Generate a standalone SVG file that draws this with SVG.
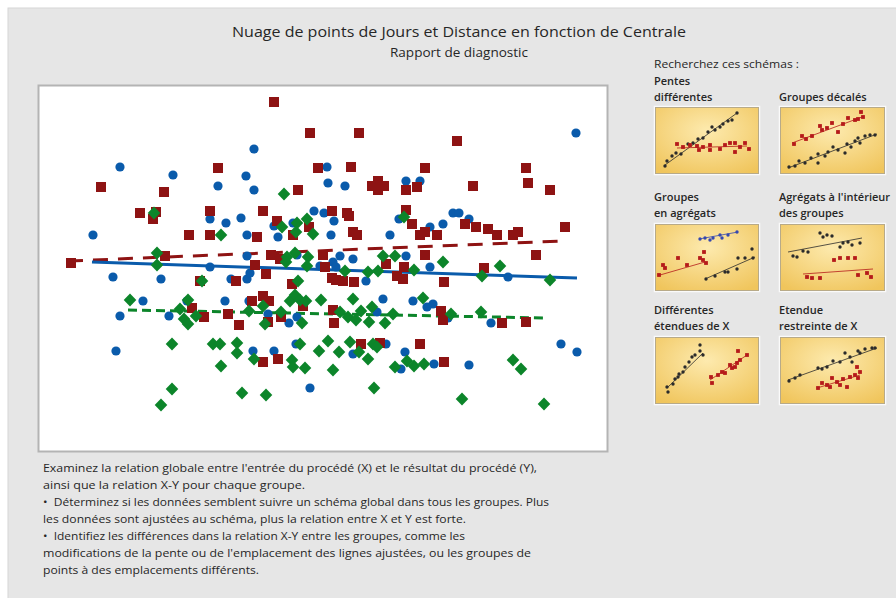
<svg xmlns="http://www.w3.org/2000/svg" xmlns:xlink="http://www.w3.org/1999/xlink" width="896" height="598" viewBox="0 0 896 598">
<defs>
<style>
text{font-family:"Open Sans","Liberation Sans",sans-serif;fill:#262626}
.t1{font-size:14px}
.t2{font-size:12px}
.lab{font-size:11px}
.lb{font-size:11px;font-weight:600}
.note{font-size:10.5px}
.b{fill:#0a5bab}
.r{fill:#8e1313}
.g{fill:#0c852a}
.tb{fill:#2b2b2b}
.tr{fill:#b51a1a}
.tu{fill:#3548b0}
.thumb{fill:url(#gold);stroke:#b8aa88;stroke-width:1}
.thumbo{fill:none;stroke:#fafafa;stroke-width:1.5}
</style>
<radialGradient id="gold" cx="0.5" cy="0.35" r="0.75">
<stop offset="0" stop-color="#fdeaae"/>
<stop offset="1" stop-color="#f0c55c"/>
</radialGradient>
<circle id="mb" r="4.6"/>
<rect id="mr" x="-5" y="-5" width="10" height="10"/>
<path id="mg" d="M0,-6.5L6.3,0L0,6.5L-6.3,0Z"/>
<circle id="sb" r="1.7"/>
<rect id="sr" x="-1.9" y="-1.9" width="3.8" height="3.8"/>
</defs>

<rect x="0" y="0" width="896" height="598" fill="#ffffff"/>
<rect x="8" y="8" width="890" height="592" fill="#e6e6e6" stroke="#d6d6d6" stroke-width="1"/>

<g id="title">
<text class="t1" x="459" y="37" text-anchor="middle" textLength="454" lengthAdjust="spacingAndGlyphs">Nuage de points de Jours et Distance en fonction de Centrale</text>
<text class="t2" x="459" y="57" text-anchor="middle" textLength="138" lengthAdjust="spacingAndGlyphs">Rapport de diagnostic</text>
</g>

<g id="plot">
<rect x="38.5" y="85.5" width="569" height="366" fill="#ffffff" stroke="#b4b4b4" stroke-width="2"/>
<g id="fitlines" fill="none" stroke-width="3">
<line x1="68" y1="261" x2="562" y2="241" stroke="#8e1313" stroke-dasharray="15 10"/>
<line x1="92" y1="262" x2="577" y2="278" stroke="#0a5bab"/>
<line x1="128" y1="310" x2="547" y2="318" stroke="#0c852a" stroke-dasharray="9 5"/>
</g>
<g id="blue-points" class="b">
<use href="#mb" x="120" y="167"/><use href="#mb" x="173" y="175"/><use href="#mb" x="246" y="176"/><use href="#mb" x="218" y="186"/><use href="#mb" x="254" y="149"/><use href="#mb" x="254" y="190"/><use href="#mb" x="327" y="167"/><use href="#mb" x="328" y="183"/><use href="#mb" x="314" y="211"/><use href="#mb" x="324" y="213"/><use href="#mb" x="210" y="219"/><use href="#mb" x="226" y="223"/><use href="#mb" x="241" y="218"/><use href="#mb" x="274" y="226"/><use href="#mb" x="293" y="223"/><use href="#mb" x="93" y="235"/><use href="#mb" x="247" y="235"/><use href="#mb" x="278" y="237"/><use href="#mb" x="247" y="256"/><use href="#mb" x="210" y="267"/><use href="#mb" x="297" y="255"/><use href="#mb" x="320" y="266"/><use href="#mb" x="576" y="133"/><use href="#mb" x="345" y="186"/><use href="#mb" x="406" y="181"/><use href="#mb" x="420" y="181"/><use href="#mb" x="334" y="221"/><use href="#mb" x="331" y="235"/><use href="#mb" x="390" y="235"/><use href="#mb" x="399" y="219"/><use href="#mb" x="430" y="227"/><use href="#mb" x="443" y="224"/><use href="#mb" x="453" y="213"/><use href="#mb" x="459" y="213"/><use href="#mb" x="469" y="219"/><use href="#mb" x="406" y="256"/><use href="#mb" x="353" y="259"/><use href="#mb" x="340" y="256"/><use href="#mb" x="333" y="262"/><use href="#mb" x="336" y="267"/><use href="#mb" x="430" y="267"/><use href="#mb" x="113" y="277"/><use href="#mb" x="161" y="279"/><use href="#mb" x="231" y="279"/><use href="#mb" x="247" y="279"/><use href="#mb" x="250" y="273"/><use href="#mb" x="143" y="301"/><use href="#mb" x="120" y="316"/><use href="#mb" x="169" y="316"/><use href="#mb" x="225" y="301"/><use href="#mb" x="249" y="301"/><use href="#mb" x="268" y="314"/><use href="#mb" x="289" y="323"/><use href="#mb" x="297" y="317"/><use href="#mb" x="116" y="351"/><use href="#mb" x="253" y="351"/><use href="#mb" x="274" y="351"/><use href="#mb" x="296" y="344"/><use href="#mb" x="310" y="388"/><use href="#mb" x="187" y="301"/><use href="#mb" x="366" y="281"/><use href="#mb" x="508" y="277"/><use href="#mb" x="383" y="299"/><use href="#mb" x="413" y="301"/><use href="#mb" x="433" y="304"/><use href="#mb" x="427" y="307"/><use href="#mb" x="377" y="312"/><use href="#mb" x="448" y="318"/><use href="#mb" x="491" y="323"/><use href="#mb" x="561" y="344"/><use href="#mb" x="577" y="352"/><use href="#mb" x="353" y="354"/><use href="#mb" x="386" y="344"/><use href="#mb" x="405" y="352"/><use href="#mb" x="434" y="364"/><use href="#mb" x="401" y="369"/><use href="#mb" x="469" y="365"/>
</g>
<g id="red-points" class="r">
<use href="#mr" x="274" y="102"/><use href="#mr" x="310" y="133"/><use href="#mr" x="101" y="187"/><use href="#mr" x="218" y="168"/><use href="#mr" x="318" y="168"/><use href="#mr" x="164" y="192"/><use href="#mr" x="298" y="190"/><use href="#mr" x="140" y="213"/><use href="#mr" x="156" y="212"/><use href="#mr" x="153" y="219"/><use href="#mr" x="210" y="211"/><use href="#mr" x="263" y="211"/><use href="#mr" x="277" y="221"/><use href="#mr" x="189" y="235"/><use href="#mr" x="210" y="235"/><use href="#mr" x="257" y="237"/><use href="#mr" x="293" y="235"/><use href="#mr" x="309" y="227"/><use href="#mr" x="71" y="263"/><use href="#mr" x="165" y="256"/><use href="#mr" x="271" y="255"/><use href="#mr" x="280" y="259"/><use href="#mr" x="255" y="265"/><use href="#mr" x="323" y="255"/><use href="#mr" x="325" y="267"/><use href="#mr" x="359" y="133"/><use href="#mr" x="457" y="141"/><use href="#mr" x="351" y="167"/><use href="#mr" x="425" y="168"/><use href="#mr" x="526" y="168"/><use href="#mr" x="528" y="183"/><use href="#mr" x="473" y="186"/><use href="#mr" x="550" y="190"/><use href="#mr" x="372" y="186"/><use href="#mr" x="378" y="181"/><use href="#mr" x="384" y="186"/><use href="#mr" x="378" y="190"/><use href="#mr" x="406" y="190"/><use href="#mr" x="417" y="187"/><use href="#mr" x="332" y="211"/><use href="#mr" x="347" y="213"/><use href="#mr" x="349" y="216"/><use href="#mr" x="406" y="210"/><use href="#mr" x="412" y="224"/><use href="#mr" x="465" y="224"/><use href="#mr" x="476" y="227"/><use href="#mr" x="488" y="229"/><use href="#mr" x="497" y="235"/><use href="#mr" x="513" y="235"/><use href="#mr" x="518" y="232"/><use href="#mr" x="565" y="227"/><use href="#mr" x="353" y="232"/><use href="#mr" x="357" y="235"/><use href="#mr" x="420" y="235"/><use href="#mr" x="425" y="232"/><use href="#mr" x="437" y="235"/><use href="#mr" x="425" y="255"/><use href="#mr" x="536" y="255"/><use href="#mr" x="386" y="264"/><use href="#mr" x="404" y="267"/><use href="#mr" x="484" y="268"/><use href="#mr" x="236" y="281"/><use href="#mr" x="266" y="274"/><use href="#mr" x="292" y="284"/><use href="#mr" x="252" y="301"/><use href="#mr" x="263" y="296"/><use href="#mr" x="269" y="301"/><use href="#mr" x="192" y="308"/><use href="#mr" x="204" y="317"/><use href="#mr" x="228" y="314"/><use href="#mr" x="239" y="325"/><use href="#mr" x="268" y="322"/><use href="#mr" x="281" y="317"/><use href="#mr" x="263" y="362"/><use href="#mr" x="278" y="359"/><use href="#mr" x="303" y="306"/><use href="#mr" x="200" y="281"/><use href="#mr" x="332" y="278"/><use href="#mr" x="444" y="282"/><use href="#mr" x="354" y="282"/><use href="#mr" x="336" y="280"/><use href="#mr" x="343" y="281"/><use href="#mr" x="333" y="310"/><use href="#mr" x="441" y="311"/><use href="#mr" x="443" y="320"/><use href="#mr" x="334" y="323"/><use href="#mr" x="502" y="323"/><use href="#mr" x="526" y="322"/><use href="#mr" x="361" y="344"/><use href="#mr" x="380" y="343"/><use href="#mr" x="420" y="344"/><use href="#mr" x="444" y="362"/><use href="#mr" x="397" y="276"/><use href="#mr" x="403" y="279"/>
</g>
<g id="green-points" class="g">
<use href="#mg" x="284" y="194"/><use href="#mg" x="154" y="213"/><use href="#mg" x="282" y="227"/><use href="#mg" x="297" y="223"/><use href="#mg" x="307" y="219"/><use href="#mg" x="296" y="232"/><use href="#mg" x="313" y="234"/><use href="#mg" x="221" y="235"/><use href="#mg" x="157" y="253"/><use href="#mg" x="157" y="265"/><use href="#mg" x="287" y="257"/><use href="#mg" x="295" y="253"/><use href="#mg" x="308" y="257"/><use href="#mg" x="286" y="262"/><use href="#mg" x="307" y="266"/><use href="#mg" x="404" y="217"/><use href="#mg" x="383" y="256"/><use href="#mg" x="395" y="256"/><use href="#mg" x="443" y="262"/><use href="#mg" x="500" y="266"/><use href="#mg" x="414" y="270"/><use href="#mg" x="130" y="300"/><use href="#mg" x="188" y="300"/><use href="#mg" x="202" y="281"/><use href="#mg" x="180" y="309"/><use href="#mg" x="184" y="319"/><use href="#mg" x="188" y="324"/><use href="#mg" x="196" y="316"/><use href="#mg" x="249" y="311"/><use href="#mg" x="263" y="306"/><use href="#mg" x="265" y="324"/><use href="#mg" x="281" y="312"/><use href="#mg" x="290" y="301"/><use href="#mg" x="295" y="295"/><use href="#mg" x="300" y="300"/><use href="#mg" x="306" y="301"/><use href="#mg" x="321" y="300"/><use href="#mg" x="302" y="323"/><use href="#mg" x="298" y="281"/><use href="#mg" x="172" y="344"/><use href="#mg" x="213" y="344"/><use href="#mg" x="220" y="344"/><use href="#mg" x="237" y="343"/><use href="#mg" x="237" y="353"/><use href="#mg" x="254" y="359"/><use href="#mg" x="221" y="366"/><use href="#mg" x="292" y="360"/><use href="#mg" x="293" y="367"/><use href="#mg" x="305" y="368"/><use href="#mg" x="300" y="344"/><use href="#mg" x="319" y="351"/><use href="#mg" x="328" y="341"/><use href="#mg" x="172" y="389"/><use href="#mg" x="161" y="405"/><use href="#mg" x="242" y="393"/><use href="#mg" x="266" y="395"/><use href="#mg" x="482" y="276"/><use href="#mg" x="550" y="280"/><use href="#mg" x="368" y="272"/><use href="#mg" x="378" y="271"/><use href="#mg" x="345" y="271"/><use href="#mg" x="353" y="299"/><use href="#mg" x="372" y="307"/><use href="#mg" x="361" y="311"/><use href="#mg" x="340" y="312"/><use href="#mg" x="348" y="317"/><use href="#mg" x="356" y="320"/><use href="#mg" x="369" y="322"/><use href="#mg" x="385" y="323"/><use href="#mg" x="393" y="314"/><use href="#mg" x="423" y="298"/><use href="#mg" x="451" y="314"/><use href="#mg" x="481" y="312"/><use href="#mg" x="339" y="352"/><use href="#mg" x="350" y="342"/><use href="#mg" x="359" y="352"/><use href="#mg" x="368" y="359"/><use href="#mg" x="373" y="344"/><use href="#mg" x="377" y="347"/><use href="#mg" x="333" y="370"/><use href="#mg" x="395" y="367"/><use href="#mg" x="407" y="361"/><use href="#mg" x="414" y="366"/><use href="#mg" x="424" y="364"/><use href="#mg" x="513" y="360"/><use href="#mg" x="521" y="369"/><use href="#mg" x="374" y="388"/><use href="#mg" x="462" y="399"/><use href="#mg" x="544" y="404"/>
</g>
</g>

<g id="patterns-heading">
<text class="lab" x="654" y="68" textLength="145" lengthAdjust="spacingAndGlyphs">Recherchez ces schémas :</text>
</g>

<g id="pentes-differentes">
<text class="lb" x="654" y="85">Pentes</text>
<text class="lb" x="654" y="101">différentes</text>
<rect class="thumbo" x="654.5" y="106.5" width="105" height="68"/>
<rect class="thumb" x="655.5" y="107.5" width="103" height="66"/>
<line x1="665" y1="165" x2="737" y2="113" stroke="#2b2b2b" stroke-width="0.8"/>
<line x1="677" y1="148" x2="747" y2="146" stroke="#b51a1a" stroke-width="0.8"/>
<g class="tb"><use href="#sb" x="665" y="166"/><use href="#sb" x="667" y="161"/><use href="#sb" x="672" y="156"/><use href="#sb" x="676" y="153"/><use href="#sb" x="681" y="154"/><use href="#sb" x="688" y="144"/><use href="#sb" x="693" y="143"/><use href="#sb" x="698" y="139"/><use href="#sb" x="703" y="138"/><use href="#sb" x="708" y="132"/><use href="#sb" x="712" y="127"/><use href="#sb" x="715" y="130"/><use href="#sb" x="720" y="127"/><use href="#sb" x="723" y="124"/><use href="#sb" x="728" y="121"/><use href="#sb" x="732" y="120"/><use href="#sb" x="737" y="113"/></g>
<g class="tr"><use href="#sr" x="677" y="144"/><use href="#sr" x="683" y="147"/><use href="#sr" x="690" y="145"/><use href="#sr" x="697" y="146"/><use href="#sr" x="699" y="150"/><use href="#sr" x="703" y="147"/><use href="#sr" x="710" y="145"/><use href="#sr" x="710" y="150"/><use href="#sr" x="720" y="149"/><use href="#sr" x="725" y="145"/><use href="#sr" x="730" y="143"/><use href="#sr" x="735" y="143"/><use href="#sr" x="735" y="152"/><use href="#sr" x="740" y="147"/><use href="#sr" x="745" y="143"/><use href="#sr" x="749" y="149"/></g>
</g>

<g id="groupes-decales">
<text class="lb" x="779" y="101">Groupes décalés</text>
<rect class="thumbo" x="779.5" y="106.5" width="106" height="68"/>
<rect class="thumb" x="780.5" y="107.5" width="104" height="66"/>
<line x1="792" y1="143" x2="862" y2="117" stroke="#b51a1a" stroke-width="0.8"/>
<line x1="788" y1="168" x2="877" y2="134" stroke="#2b2b2b" stroke-width="0.8"/>
<g class="tr"><use href="#sr" x="794" y="144"/><use href="#sr" x="802" y="136"/><use href="#sr" x="806" y="139"/><use href="#sr" x="812" y="136"/><use href="#sr" x="820" y="126"/><use href="#sr" x="822" y="130"/><use href="#sr" x="827" y="128"/><use href="#sr" x="832" y="123"/><use href="#sr" x="838" y="132"/><use href="#sr" x="843" y="124"/><use href="#sr" x="848" y="118"/><use href="#sr" x="855" y="120"/><use href="#sr" x="858" y="119"/><use href="#sr" x="861" y="112"/><use href="#sr" x="863" y="117"/></g>
<g class="tb"><use href="#sb" x="789" y="167"/><use href="#sb" x="795" y="166"/><use href="#sb" x="799" y="161"/><use href="#sb" x="805" y="163"/><use href="#sb" x="811" y="158"/><use href="#sb" x="818" y="154"/><use href="#sb" x="818" y="163"/><use href="#sb" x="825" y="156"/><use href="#sb" x="828" y="152"/><use href="#sb" x="833" y="147"/><use href="#sb" x="838" y="150"/><use href="#sb" x="845" y="153"/><use href="#sb" x="847" y="144"/><use href="#sb" x="851" y="147"/><use href="#sb" x="855" y="141"/><use href="#sb" x="858" y="138"/><use href="#sb" x="860" y="143"/><use href="#sb" x="865" y="136"/><use href="#sb" x="870" y="135"/><use href="#sb" x="875" y="135"/></g>
</g>

<g id="groupes-en-agregats">
<text class="lb" x="654" y="201">Groupes</text>
<text class="lb" x="654" y="217">en agrégats</text>
<rect class="thumbo" x="654.5" y="223.5" width="105" height="68"/>
<rect class="thumb" x="655.5" y="224.5" width="103" height="66"/>
<line x1="699" y1="239" x2="738" y2="232" stroke="#3548b0" stroke-width="0.8"/>
<line x1="660" y1="275" x2="705" y2="262" stroke="#b51a1a" stroke-width="0.8"/>
<line x1="705" y1="279" x2="755" y2="257" stroke="#2b2b2b" stroke-width="0.8"/>
<g class="tu"><use href="#sb" x="700" y="239"/><use href="#sb" x="705" y="238"/><use href="#sb" x="710" y="240"/><use href="#sb" x="713" y="238"/><use href="#sb" x="720" y="235"/><use href="#sb" x="722" y="238"/><use href="#sb" x="728" y="235"/><use href="#sb" x="737" y="232"/></g>
<g class="tr"><use href="#sr" x="659" y="275"/><use href="#sr" x="663" y="265"/><use href="#sr" x="665" y="268"/><use href="#sr" x="678" y="258"/><use href="#sr" x="687" y="265"/><use href="#sr" x="700" y="258"/><use href="#sr" x="704" y="252"/><use href="#sr" x="703" y="260"/><use href="#sr" x="706" y="263"/></g>
<g class="tb"><use href="#sb" x="706" y="279"/><use href="#sb" x="715" y="276"/><use href="#sb" x="725" y="272"/><use href="#sb" x="728" y="272"/><use href="#sb" x="737" y="269"/><use href="#sb" x="738" y="258"/><use href="#sb" x="745" y="258"/><use href="#sb" x="752" y="249"/><use href="#sb" x="753" y="258"/></g>
</g>

<g id="agregats-interieur">
<text class="lb" x="779" y="201">Agrégats à l'intérieur</text>
<text class="lb" x="779" y="217">des groupes</text>
<rect class="thumbo" x="779.5" y="223.5" width="106" height="68"/>
<rect class="thumb" x="780.5" y="224.5" width="104" height="66"/>
<line x1="788" y1="252" x2="862" y2="238" stroke="#2b2b2b" stroke-width="0.8"/>
<line x1="803" y1="274" x2="873" y2="269" stroke="#b51a1a" stroke-width="0.8"/>
<g class="tb"><use href="#sb" x="793" y="256"/><use href="#sb" x="797" y="257"/><use href="#sb" x="803" y="251"/><use href="#sb" x="808" y="252"/><use href="#sb" x="820" y="233"/><use href="#sb" x="823" y="237"/><use href="#sb" x="827" y="235"/><use href="#sb" x="832" y="236"/><use href="#sb" x="840" y="247"/><use href="#sb" x="843" y="243"/><use href="#sb" x="848" y="242"/><use href="#sb" x="852" y="245"/><use href="#sb" x="860" y="243"/></g>
<g class="tr"><use href="#sr" x="807" y="277"/><use href="#sr" x="812" y="278"/><use href="#sr" x="820" y="278"/><use href="#sr" x="834" y="260"/><use href="#sr" x="840" y="258"/><use href="#sr" x="848" y="258"/><use href="#sr" x="855" y="258"/><use href="#sr" x="858" y="275"/><use href="#sr" x="867" y="273"/><use href="#sr" x="871" y="277"/></g>
</g>

<g id="differentes-etendues">
<text class="lb" x="654" y="314">Différentes</text>
<text class="lb" x="654" y="330">étendues de X</text>
<rect class="thumbo" x="654.5" y="336.5" width="105" height="68"/>
<rect class="thumb" x="655.5" y="337.5" width="103" height="66"/>
<line x1="667" y1="388" x2="703" y2="353" stroke="#2b2b2b" stroke-width="0.8"/>
<line x1="710" y1="380" x2="747" y2="355" stroke="#b51a1a" stroke-width="0.8"/>
<g class="tb"><use href="#sb" x="667" y="387"/><use href="#sb" x="668" y="392"/><use href="#sb" x="673" y="384"/><use href="#sb" x="675" y="379"/><use href="#sb" x="678" y="377"/><use href="#sb" x="679" y="374"/><use href="#sb" x="683" y="372"/><use href="#sb" x="685" y="367"/><use href="#sb" x="689" y="362"/><use href="#sb" x="692" y="357"/><use href="#sb" x="695" y="355"/><use href="#sb" x="700" y="345"/><use href="#sb" x="700" y="351"/><use href="#sb" x="703" y="355"/></g>
<g class="tr"><use href="#sr" x="711" y="377"/><use href="#sr" x="712" y="383"/><use href="#sr" x="718" y="375"/><use href="#sr" x="722" y="372"/><use href="#sr" x="725" y="373"/><use href="#sr" x="730" y="365"/><use href="#sr" x="732" y="368"/><use href="#sr" x="735" y="367"/><use href="#sr" x="737" y="363"/><use href="#sr" x="740" y="360"/><use href="#sr" x="738" y="351"/><use href="#sr" x="747" y="355"/></g>
</g>

<g id="etendue-restreinte">
<text class="lb" x="779" y="314">Etendue</text>
<text class="lb" x="779" y="330">restreinte de X</text>
<rect class="thumbo" x="779.5" y="336.5" width="106" height="68"/>
<rect class="thumb" x="780.5" y="337.5" width="104" height="66"/>
<line x1="788" y1="380" x2="877" y2="348" stroke="#2b2b2b" stroke-width="0.8"/>
<line x1="817" y1="388" x2="860" y2="375" stroke="#b51a1a" stroke-width="0.8"/>
<g class="tb"><use href="#sb" x="789" y="381"/><use href="#sb" x="795" y="378"/><use href="#sb" x="800" y="375"/><use href="#sb" x="818" y="368"/><use href="#sb" x="822" y="369"/><use href="#sb" x="827" y="367"/><use href="#sb" x="833" y="361"/><use href="#sb" x="840" y="362"/><use href="#sb" x="845" y="353"/><use href="#sb" x="850" y="357"/><use href="#sb" x="852" y="362"/><use href="#sb" x="858" y="351"/><use href="#sb" x="860" y="353"/><use href="#sb" x="865" y="349"/><use href="#sb" x="872" y="348"/><use href="#sb" x="875" y="348"/></g>
<g class="tr"><use href="#sr" x="818" y="388"/><use href="#sr" x="822" y="383"/><use href="#sr" x="827" y="385"/><use href="#sr" x="830" y="387"/><use href="#sr" x="832" y="378"/><use href="#sr" x="837" y="382"/><use href="#sr" x="840" y="385"/><use href="#sr" x="843" y="379"/><use href="#sr" x="847" y="387"/><use href="#sr" x="850" y="377"/><use href="#sr" x="855" y="375"/><use href="#sr" x="857" y="367"/><use href="#sr" x="858" y="378"/><use href="#sr" x="860" y="372"/></g>
</g>

<g id="notes">
<text class="note" x="43" y="472" textLength="494" lengthAdjust="spacingAndGlyphs">Examinez la relation globale entre l'entrée du procédé (X) et le résultat du procédé (Y),</text>
<text class="note" x="43" y="489" textLength="262" lengthAdjust="spacingAndGlyphs">ainsi que la relation X-Y pour chaque groupe.</text>
<text class="note" x="43" y="506" textLength="506" lengthAdjust="spacingAndGlyphs">•&#160; Déterminez si les données semblent suivre un schéma global dans tous les groupes. Plus</text>
<text class="note" x="43" y="523" textLength="423" lengthAdjust="spacingAndGlyphs">les données sont ajustées au schéma, plus la relation entre X et Y est forte.</text>
<text class="note" x="43" y="540" textLength="422" lengthAdjust="spacingAndGlyphs">•&#160; Identifiez les différences dans la relation X-Y entre les groupes, comme les</text>
<text class="note" x="43" y="557" textLength="488" lengthAdjust="spacingAndGlyphs">modifications de la pente ou de l'emplacement des lignes ajustées, ou les groupes de</text>
<text class="note" x="43" y="574" textLength="216" lengthAdjust="spacingAndGlyphs">points à des emplacements différents.</text>
</g>
</svg>
